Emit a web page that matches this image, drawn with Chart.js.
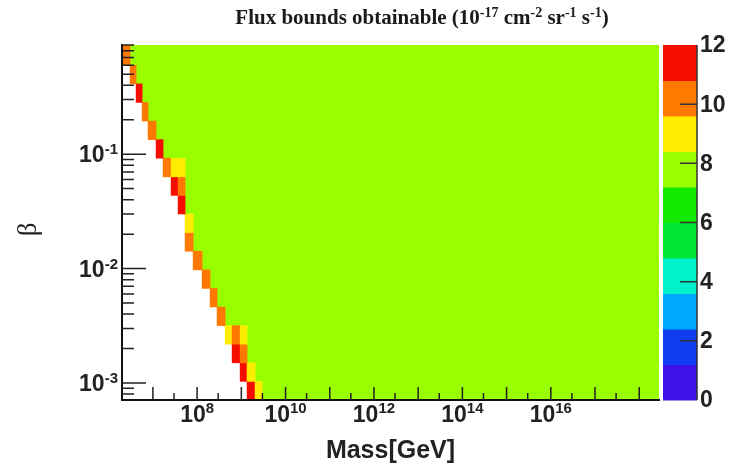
<!DOCTYPE html>
<html>
<head>
<meta charset="utf-8">
<title>Flux bounds obtainable</title>
<script src="https://cdn.jsdelivr.net/npm/chart.js@4.4.1/dist/chart.umd.min.js"></script>
<style>
  html, body { margin: 0; padding: 0; background: #fff; }
  canvas { display: block; }
</style>
</head>
<body>
<canvas id="fluxChart" width="743" height="468"></canvas>
<script>
'use strict';

// beta rows of the histogram (bin centres)
const betaRows = [8.56e-4, 1.245e-3, 1.81e-3, 2.633e-3, 3.827e-3, 5.565e-3, 8.09e-3, 1.176e-2,
  1.711e-2, 2.487e-2, 3.616e-2, 5.258e-2, 7.646e-2, 0.1112, 0.1616, 0.235, 0.3417, 0.4968, 0.7225, 1.05];

// mass [GeV] where the flat region starts, one per row
const plateauStart = [2.96e9, 2.05e9, 1.35e9, 1.35e9, 4.3e8, 2.83e8, 1.97e8, 1.3e8, 8.13e7, 8.13e7,
  5.35e7, 5.35e7, 5.35e7, 1.7e7, 1.18e7, 7.78e6, 5.7e6, 4.17e6, 3.05e6, 3.05e6];
const plateauFlux = 7.9;
const massMax = 2.8e18;

// cells along the edge of the reachable region
const edgeRow = [0, 0, 1, 1, 2, 2, 3, 3, 3, 4, 5, 6, 7, 8, 9, 10, 11, 11, 12, 12, 12, 13, 14, 15, 16, 17, 18, 19];
const edgeFrom = [1.35e9, 2.05e9, 9.4e8, 1.35e9, 6.19e8, 9.4e8, 4.3e8, 6.19e8, 9.4e8, 2.83e8, 1.97e8, 1.3e8,
  8.13e7, 5.35e7, 5.35e7, 3.72e7, 2.58e7, 3.72e7, 1.7e7, 2.58e7, 3.72e7, 1.18e7, 7.78e6, 5.7e6, 4.17e6,
  3.05e6, 2.0e6, 2.0e6];
const edgeTo = [2.05e9, 2.96e9, 1.35e9, 2.05e9, 9.4e8, 1.35e9, 6.19e8, 9.4e8, 1.35e9, 4.3e8, 2.83e8, 1.97e8,
  1.3e8, 8.13e7, 8.13e7, 5.35e7, 3.72e7, 5.35e7, 2.58e7, 3.72e7, 5.35e7, 1.7e7, 1.18e7, 7.78e6, 5.7e6,
  4.17e6, 3.05e6, 3.05e6];
const edgeFlux = [11.5, 9.0, 11.5, 9.0, 11.5, 10.2, 9.0, 10.2, 9.0, 10.2, 10.2, 10.2, 10.2, 10.2, 9.0, 11.5,
  11.5, 10.2, 10.2, 9.0, 9.0, 11.5, 10.2, 10.2, 11.5, 10.2, 10.2, 10.2];

// colour palette (z axis)
const zEdges = [0, 1.2, 2.4, 3.6, 4.8, 6.0, 7.2, 8.4, 9.6, 10.8, 12];
const zColors = ['#3c12e8', '#0f3ef2', '#00a8ff', '#00f2cc', '#00e633', '#14ea00', '#99ff00', '#ffec00', '#ff7800', '#f50d00'];
const zLabels = [0, 2, 4, 6, 8, 10, 12];
const zTickMarks = [2, 4, 6, 8, 10];

// axis labels (powers of ten)
const massLabelExp = [8, 10, 12, 14, 16];
const betaLabelExp = [-1, -2, -3];
const massTickExp = [7, 8, 9, 10, 11, 12, 13, 14, 15, 16, 17, 18];
const betaTickExp = [-4, -3, -2, -1];

const titleParts = [['Flux bounds obtainable (10', 0], ['-17', 1], [' cm', 0], ['-2', 1],
  [' sr', 0], ['-1', 1], [' s', 0], ['-1', 1], [')', 0]];

const labelFont = 'bold 23px "Liberation Sans", Arial, sans-serif';
const labelSupFont = 'bold 15px "Liberation Sans", Arial, sans-serif';
const titleFont = 'bold 21px "Liberation Serif", "Times New Roman", serif';
const titleSupFont = 'bold 14px "Liberation Serif", "Times New Roman", serif';
const betaFont = '27px "Liberation Serif", "Times New Roman", serif';

function colorFor(v) {
  for (let i = 0; i < zColors.length; i++) {
    if (v < zEdges[i + 1]) return zColors[i];
  }
  return zColors[zColors.length - 1];
}

const cells = [];
betaRows.forEach((b, r) => cells.push({ x: [plateauStart[r], massMax], y: b, v: plateauFlux }));
edgeRow.forEach((r, i) => cells.push({ x: [edgeFrom[i], edgeTo[i]], y: betaRows[r], v: edgeFlux[i] }));

// text with raised exponents
function drawRich(ctx, parts, x, y, align, font, supFont, rise) {
  let w = 0;
  parts.forEach(p => { ctx.font = p[1] ? supFont : font; w += ctx.measureText(p[0]).width; });
  let cx = align === 'center' ? x - w / 2 : (align === 'right' ? x - w : x);
  ctx.textAlign = 'left';
  ctx.textBaseline = 'alphabetic';
  parts.forEach(p => {
    ctx.font = p[1] ? supFont : font;
    ctx.fillText(p[0], cx, p[1] ? y - rise : y);
    cx += ctx.measureText(p[0]).width;
  });
}

const rootFrame = {
  id: 'rootFrame',
  afterDraw(chart) {
    const ctx = chart.ctx;
    const area = chart.chartArea;
    const xs = chart.scales.x, ys = chart.scales.y, zs = chart.scales.z;
    ctx.save();

    // palette bar
    const bx0 = area.right + 4, bx1 = area.right + 38;
    zColors.forEach((c, i) => {
      const top = zs.getPixelForValue(zEdges[i + 1]);
      const bot = zs.getPixelForValue(zEdges[i]);
      ctx.fillStyle = c;
      ctx.fillRect(bx0, top, bx1 - bx0, bot - top + 0.5);
    });
    ctx.strokeStyle = '#333';
    ctx.lineWidth = 1.5;
    ctx.beginPath();
    ctx.moveTo(bx1, zs.getPixelForValue(12));
    ctx.lineTo(bx1, zs.getPixelForValue(0));
    zTickMarks.forEach(t => {
      const py = zs.getPixelForValue(t);
      ctx.moveTo(bx1 - 17, py);
      ctx.lineTo(bx1, py);
    });
    ctx.stroke();
    ctx.fillStyle = '#222';
    ctx.font = labelFont;
    ctx.textAlign = 'left';
    ctx.textBaseline = 'middle';
    zLabels.forEach(t => ctx.fillText(String(t), bx1 + 3, zs.getPixelForValue(t) + 1));

    // inner tick marks
    ctx.strokeStyle = '#222';
    ctx.lineWidth = 1.5;
    ctx.beginPath();
    betaTickExp.forEach(e => {
      for (let m = 1; m < 10; m++) {
        const v = m * Math.pow(10, e);
        if (v < ys.min || v > ys.max) continue;
        const py = ys.getPixelForValue(v);
        ctx.moveTo(area.left, py);
        ctx.lineTo(area.left + (m === 1 ? 24 : 12), py);
      }
    });
    massTickExp.forEach(e => {
      [1, 3].forEach(m => {
        const v = m * Math.pow(10, e);
        if (v < xs.min || v > xs.max) return;
        const px = xs.getPixelForValue(v);
        ctx.moveTo(px, area.bottom);
        ctx.lineTo(px, area.bottom - (m === 1 ? 13 : 7));
      });
    });
    ctx.stroke();

    // tick labels
    ctx.fillStyle = '#222';
    massLabelExp.forEach(e => {
      const px = xs.getPixelForValue(Math.pow(10, e));
      drawRich(ctx, [['10', 0], [String(e), 1]], px, area.bottom + 22, 'center', labelFont, labelSupFont, 9);
    });
    betaLabelExp.forEach(e => {
      const py = ys.getPixelForValue(Math.pow(10, e));
      drawRich(ctx, [['10', 0], [String(e), 1]], area.left - 4, py + 8, 'right', labelFont, labelSupFont, 8);
    });

    // beta axis title, rotated like ROOT does
    ctx.save();
    ctx.translate(36, ys.getPixelForValue(0.022));
    ctx.rotate(-Math.PI / 2);
    ctx.font = betaFont;
    ctx.textAlign = 'center';
    ctx.textBaseline = 'alphabetic';
    ctx.fillText('β', 0, 0);
    ctx.restore();

    // title
    ctx.fillStyle = '#1a1a1a';
    drawRich(ctx, titleParts, 422, 24, 'center', titleFont, titleSupFont, 7);

    ctx.restore();
  }
};

const canvas = document.getElementById('fluxChart');
new Chart(canvas.getContext('2d'), {
  type: 'bar',
  data: {
    datasets: [{
      data: cells,
      xAxisID: 'x',
      yAxisID: 'y',
      backgroundColor: c => colorFor(c.raw.v),
      borderWidth: 0,
      barPercentage: 1,
      categoryPercentage: 1,
      clip: 0
    }]
  },
  options: {
    indexAxis: 'y',
    responsive: false,
    animation: false,
    layout: { padding: { top: 45 } },
    plugins: {
      legend: { display: false },
      tooltip: { enabled: false },
      title: { display: false }
    },
    scales: {
      x: {
        type: 'logarithmic',
        position: 'bottom',
        min: 2e6,
        max: massMax,
        bounds: 'data',
        offset: false,
        beginAtZero: false,
        grid: { display: false },
        border: { display: true, color: '#111', width: 2, z: 1 },
        ticks: { display: false },
        afterBuildTicks: s => { s.ticks = []; },
        afterFit: s => { s.height = 68; },
        title: {
          display: true,
          text: 'Mass[GeV]',
          color: '#222',
          font: { family: '"Liberation Sans", Arial, sans-serif', size: 25, weight: 'bold' },
          padding: { top: 0, bottom: 2 }
        }
      },
      y: {
        type: 'logarithmic',
        position: 'left',
        min: 7.1e-4,
        max: 0.9,
        bounds: 'data',
        offset: false,
        beginAtZero: false,
        grid: { display: false },
        border: { display: true, color: '#111', width: 2, z: 1 },
        ticks: { display: false },
        afterBuildTicks: s => { s.ticks = []; },
        afterFit: s => { s.width = 122; }
      },
      z: {
        type: 'linear',
        position: 'right',
        min: 0,
        max: 12,
        offset: false,
        grid: { display: false, drawTicks: false },
        border: { display: false },
        ticks: { display: false },
        afterFit: s => { s.width = 84; }
      }
    }
  },
  plugins: [rootFrame]
});
</script>
</body>
</html>
